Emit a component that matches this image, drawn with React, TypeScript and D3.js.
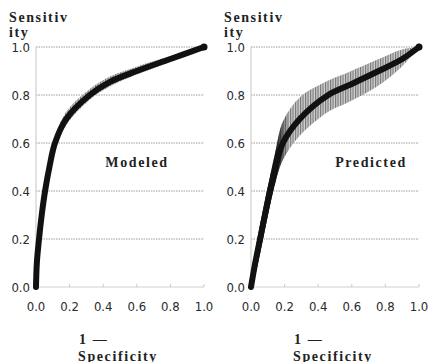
import React from 'react';
import * as d3 from 'd3';

// values
const ticks = [0, 0.2, 0.4, 0.6, 0.8, 1.0];

const modeledFpr = [0, 0.005, 0.018, 0.034, 0.054, 0.08, 0.113, 0.18, 0.32, 0.44, 0.6, 0.8, 1];
const modeledTpr = [0, 0.1, 0.2, 0.3, 0.4, 0.5, 0.6, 0.7, 0.8, 0.855, 0.9, 0.95, 1];
const modeledLow = [0, 0.08, 0.18, 0.28, 0.38, 0.48, 0.58, 0.675, 0.78, 0.835, 0.885, 0.94, 1];
const modeledHigh = [0.02, 0.12, 0.22, 0.32, 0.42, 0.52, 0.625, 0.73, 0.825, 0.877, 0.918, 0.962, 1];

const predictedFpr = [0, 0.025, 0.054, 0.083, 0.113, 0.147, 0.19, 0.29, 0.46, 0.58, 0.76, 0.9, 1];
const predictedTpr = [0, 0.1, 0.2, 0.3, 0.4, 0.5, 0.6, 0.7, 0.8, 0.84, 0.9, 0.95, 1];
const predictedLow = [0, 0.05, 0.14, 0.24, 0.34, 0.44, 0.53, 0.63, 0.73, 0.77, 0.84, 0.92, 1];
const predictedHigh = [0.03, 0.15, 0.26, 0.36, 0.46, 0.57, 0.69, 0.79, 0.86, 0.895, 0.95, 0.99, 1];

const width = 430;
const height = 362;
const top = 47;
const bottom = 287;
const plotW = 168;

const tickFont = '"Liberation Sans Narrow", "DejaVu Sans Condensed", sans-serif';
const titleFont = '"Liberation Serif", "DejaVu Serif", serif';

type PanelProps = {
  x0: number;
  id: string;
  label: string;
  labelX: number;
  fpr: number[];
  tpr: number[];
  low: number[];
  high: number[];
  darkBand: boolean;
};

function Panel({ x0, id, label, labelX, fpr, tpr, low, high, darkBand }: PanelProps) {
  const x = d3.scaleLinear().domain([0, 1]).range([x0, x0 + plotW]);
  const y = d3.scaleLinear().domain([0, 1]).range([bottom, top]);

  const rows = fpr.map((f, i) => ({ f, t: tpr[i], lo: low[i], hi: high[i] }));

  const line = d3
    .line<typeof rows[0]>()
    .x((d) => x(d.f))
    .y((d) => y(d.t))
    .curve(d3.curveCatmullRom.alpha(0.5));

  const band = d3
    .area<typeof rows[0]>()
    .x((d) => x(d.f))
    .y0((d) => y(d.lo))
    .y1((d) => y(d.hi))
    .curve(d3.curveCatmullRom.alpha(0.5));

  return (
    <g>
      <defs>
        <pattern id={'hatch-' + id} width={2.5} height={4} patternUnits="userSpaceOnUse">
          <rect width={2.5} height={4} fill="#cfcfcf" />
          <line x1={0.6} y1={0} x2={0.6} y2={4} stroke="#6a6a6a" strokeWidth={1} />
        </pattern>
        <linearGradient
          id={'dark-' + id}
          gradientUnits="userSpaceOnUse"
          x1={x(0)}
          x2={x(0.3)}
          y1={0}
          y2={0}
        >
          <stop offset="0" stopColor="#111" stopOpacity={1} />
          <stop offset="0.5" stopColor="#111" stopOpacity={0.95} />
          <stop offset="0.75" stopColor="#111" stopOpacity={0} />
        </linearGradient>
      </defs>

      {/* grid */}
      {ticks.slice(1).map((t) => (
        <line
          key={t}
          x1={x(0)}
          x2={x(1)}
          y1={y(t)}
          y2={y(t)}
          stroke="#9a9a9a"
          strokeWidth={1}
          strokeDasharray="1.5,1"
        />
      ))}

      {/* axes */}
      <line x1={x(0)} x2={x(0)} y1={y(0)} y2={y(1)} stroke="#d0d0d0" strokeWidth={1.2} />
      <line x1={x(0)} x2={x(1)} y1={y(0)} y2={y(0)} stroke="#d0d0d0" strokeWidth={1.2} />
      {ticks.map((t) => (
        <line key={'tk' + t} x1={x(t)} x2={x(t)} y1={y(0)} y2={y(0) - 3} stroke="#c8c8c8" />
      ))}

      {ticks.map((t) => (
        <text
          key={'yl' + t}
          x={x0 - 6}
          y={y(t)}
          dy="0.35em"
          textAnchor="end"
          fontFamily={tickFont}
          fontSize={13}
          fill="#2a2a2a"
        >
          {d3.format('.1f')(t)}
        </text>
      ))}
      {ticks.map((t) => (
        <text
          key={'xl' + t}
          x={x(t)}
          y={311}
          textAnchor="middle"
          fontFamily={tickFont}
          fontSize={13}
          fill="#2a2a2a"
        >
          {d3.format('.1f')(t)}
        </text>
      ))}

      {/* band + curve */}
      <path d={band(rows) || ''} fill={'url(#hatch-' + id + ')'} />
      {darkBand && <path d={band(rows) || ''} fill={'url(#dark-' + id + ')'} />}
      <path d={line(rows) || ''} fill="none" stroke="#111" strokeWidth={6} strokeLinecap="round" />
      <circle cx={x(1)} cy={y(1)} r={3.5} fill="#111" />

      {/* texts */}
      <g fontFamily={titleFont} fontWeight="bold" fill="#222" fontSize={14} letterSpacing={1.6}>
        <text x={x0 - 27} y={22}>Sensitiv</text>
        <text x={x0 - 27} y={37}>ity</text>
        <text x={labelX} y={167} textAnchor="middle">{label}</text>
        <text x={x0 + 43} y={344}>1 —</text>
        <text x={x0 + 42} y={361}>Specificity</text>
      </g>
    </g>
  );
}

export default function App() {
  return (
    <svg
      width={width}
      height={height}
      style={{ position: 'absolute', left: 0, top: 0, background: '#fff' }}
    >
      <Panel
        x0={36}
        id="m"
        label="Modeled"
        labelX={137}
        fpr={modeledFpr}
        tpr={modeledTpr}
        low={modeledLow}
        high={modeledHigh}
        darkBand={false}
      />
      <Panel
        x0={251}
        id="p"
        label="Predicted"
        labelX={371}
        fpr={predictedFpr}
        tpr={predictedTpr}
        low={predictedLow}
        high={predictedHigh}
        darkBand={true}
      />
    </svg>
  );
}
